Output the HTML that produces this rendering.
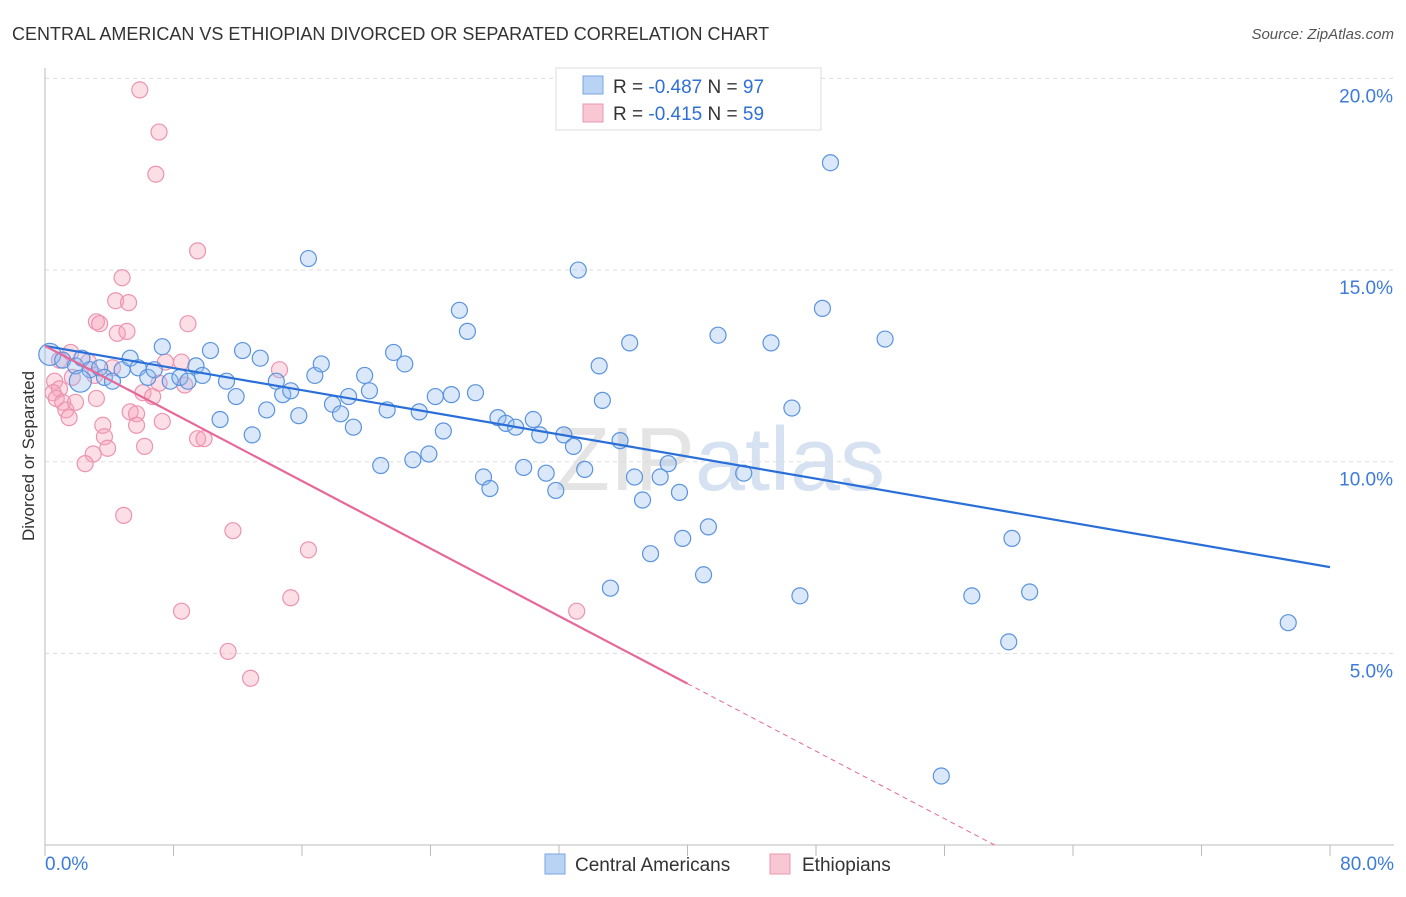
<!DOCTYPE html>
<html><head><meta charset="utf-8"><style>
body{margin:0;background:#fff;font-family:"Liberation Sans",sans-serif;}
svg text{font-family:"Liberation Sans",sans-serif;}
</style></head><body>
<svg width="1406" height="892" viewBox="0 0 1406 892" id="chart">
<text x="12" y="40" font-size="18" fill="#333">CENTRAL AMERICAN VS ETHIOPIAN DIVORCED OR SEPARATED CORRELATION CHART</text>
<text x="1394" y="39" font-size="15" fill="#555" text-anchor="end" font-style="italic">Source: ZipAtlas.com</text>
<text x="34" y="456" font-size="17" fill="#333" text-anchor="middle" transform="rotate(-90 34 456)">Divorced or Separated</text>
<text x="720" y="490" font-size="90" fill="#e4e4e4" text-anchor="middle" font-family="Liberation Serif">ZIP<tspan fill="#d6e2f2" font-family="Liberation Sans">atlas</tspan></text>
<g id="grid"></g><g id="pts"></g><g id="lines"></g>
<g>
<rect x="556" y="68" width="265" height="62" fill="#fff" stroke="#ddd"/>
<rect x="583" y="76" width="20" height="18" fill="#b9d3f5" stroke="#7aa6e0"/>
<rect x="583" y="104" width="20" height="18" fill="#f9c6d4" stroke="#e99ab0"/>
<text x="613" y="93" font-size="19" fill="#333">R = <tspan fill="#2f6fd6">-0.487</tspan>   N = <tspan fill="#2f6fd6">97</tspan></text>
<text x="613" y="120" font-size="19" fill="#333">R =  <tspan fill="#2f6fd6">-0.415</tspan>   N = <tspan fill="#2f6fd6">59</tspan></text>
</g>
<g>
<rect x="545" y="854" width="20" height="20" fill="#b9d3f5" stroke="#7aa6e0"/>
<text x="575" y="871" font-size="19" fill="#333">Central Americans</text>
<rect x="770" y="854" width="20" height="20" fill="#f9c6d4" stroke="#e99ab0"/>
<text x="802" y="871" font-size="19" fill="#333">Ethiopians</text>
</g>
</svg>
<script>
const yTicks=[5,10,15,20];
const yTickLabels=["5.0%","10.0%","15.0%","20.0%"];
const xTickLabels=["0.0%","80.0%"];
const blueX=[0.3,1.1,1.9,2.3,2.8,3.4,3.7,4.2,2.2,4.8,5.3,5.8,6.4,6.8,7.3,7.8,8.4,8.9,9.4,9.8,10.3,10.9,11.3,11.9,12.3,12.9,13.4,13.8,14.4,14.8,15.3,15.8,16.4,16.8,17.2,17.9,18.4,18.9,19.2,19.9,20.2,20.9,21.3,21.7,22.4,22.9,23.3,23.9,24.3,24.8,25.3,25.8,26.3,26.8,27.3,27.7,28.2,28.7,29.3,29.8,30.4,30.8,31.2,31.8,32.3,32.9,33.2,33.6,34.5,34.7,35.2,35.8,36.4,36.7,37.2,37.7,38.3,38.8,39.5,39.7,41.0,41.3,41.9,43.5,45.2,46.5,47.0,48.4,48.9,52.3,55.8,57.7,60.0,60.2,61.3,77.4];
const blueY=[12.8,12.65,12.5,12.7,12.4,12.45,12.2,12.1,12.1,12.4,12.7,12.45,12.2,12.4,13.0,12.1,12.2,12.1,12.5,12.25,12.9,11.1,12.1,11.7,12.9,10.7,12.7,11.35,12.1,11.75,11.85,11.2,15.3,12.25,12.55,11.5,11.25,11.7,10.9,12.25,11.85,9.9,11.35,12.85,12.55,10.05,11.3,10.2,11.7,10.8,11.75,13.95,13.4,11.8,9.6,9.3,11.15,11.0,10.9,9.85,11.1,10.7,9.7,9.25,10.7,10.4,15.0,9.8,12.5,11.6,6.7,10.55,13.1,9.6,9.0,7.6,9.6,9.95,9.2,8.0,7.05,8.3,13.3,9.7,13.1,11.4,6.5,14.0,17.8,13.2,1.8,6.5,5.3,8.0,6.6,5.8];
const pinkX=[5.9,7.1,6.9,9.5,4.8,4.4,5.2,3.2,3.4,8.9,4.5,5.1,1.6,0.9,2.7,7.5,8.5,14.6,4.2,0.6,0.9,0.5,0.7,1.1,1.3,1.9,3.2,1.5,6.1,6.7,8.7,5.3,5.7,3.6,5.7,7.3,3.7,9.5,9.9,3.9,6.2,3.0,2.5,4.9,11.7,16.4,8.5,15.3,33.1,11.4,12.8,7.1,3.1,1.7];
const pinkY=[19.7,18.6,17.5,15.5,14.8,14.2,14.15,13.65,13.6,13.6,13.35,13.4,12.85,12.65,12.6,12.6,12.6,12.4,12.45,12.1,11.9,11.8,11.65,11.55,11.35,11.55,11.65,11.15,11.8,11.7,12.0,11.3,11.25,10.95,10.95,11.05,10.65,10.6,10.6,10.35,10.4,10.2,9.95,8.6,8.2,7.7,6.1,6.45,6.1,5.05,4.35,12.05,12.25,12.2];
const blueFit=[13.02,7.25];
const pinkFit=[13.02,-4.6];
const X=v=>45+v*16.0625, Y=v=>845-v*38.33;
const NS="http://www.w3.org/2000/svg";
function mk(t,a,p){const e=document.createElementNS(NS,t);for(const k in a)e.setAttribute(k,a[k]);p.appendChild(e);return e;}
const g=document.getElementById('grid');
yTicks.forEach((t,i)=>{
 const l=mk('line',{x1:45,x2:1394,y1:Y(t),y2:Y(t),stroke:'#ddd','stroke-dasharray':'4,4'},g);
 
 
 const tx=mk('text',{x:1393,y:Y(t)+24,'font-size':19,fill:'#3d7bd9','text-anchor':'end'},g);
 tx.textContent=yTickLabels[i];
 
 
});
const ax=mk('line',{x1:45,x2:45,y1:68,y2:845,stroke:'#bbb'},g);


const bx=mk('line',{x1:45,x2:1394,y1:845,y2:845,stroke:'#bbb'},g);


for(let i=0;i<=10;i++){const t=mk('line',{x1:X(i*8),x2:X(i*8),y1:845,y2:856,stroke:'#bbb'},g);
 
 }
[[0,'start',45],[80,'end',1394]].forEach((d,i)=>{const t=mk('text',{x:d[2],y:870,'font-size':19,fill:'#3d7bd9','text-anchor':d[1]},g);t.textContent=xTickLabels[i];
 
 });
const P=document.getElementById('pts');
pinkX.forEach((x,i)=>{const c=mk('circle',{cx:X(x),cy:Y(pinkY[i]),r:8,fill:'rgba(245,160,185,0.35)',stroke:'#ec94ae','stroke-width':1.2},P);
 
 });
blueX.forEach((x,i)=>{const c=mk('circle',{cx:X(x),cy:Y(blueY[i]),r:(i==0||i==8)?11:8,fill:'rgba(150,190,240,0.35)',stroke:'#5a93de','stroke-width':1.2},P);
 
 });
const L=document.getElementById('lines');
const bl=mk('line',{x1:X(0),y1:Y(blueFit[0]),x2:X(80),y2:Y(blueFit[1]),stroke:'#2a6fd8','stroke-width':2.2},L);


const pv=x=>pinkFit[0]+(pinkFit[1]-pinkFit[0])*x/80;
const pl=mk('line',{x1:X(0),y1:Y(pv(0)),x2:X(40),y2:Y(pv(40)),stroke:'#e7679a','stroke-width':2.2},L);


const x0=pinkFit[0]*80/(pinkFit[0]-pinkFit[1]);
const pd=mk('line',{x1:X(40),y1:Y(pv(40)),x2:X(x0),y2:Y(0),stroke:'#e7679a','stroke-width':1,'stroke-dasharray':'5,4'},L);


</script>
</body></html>
